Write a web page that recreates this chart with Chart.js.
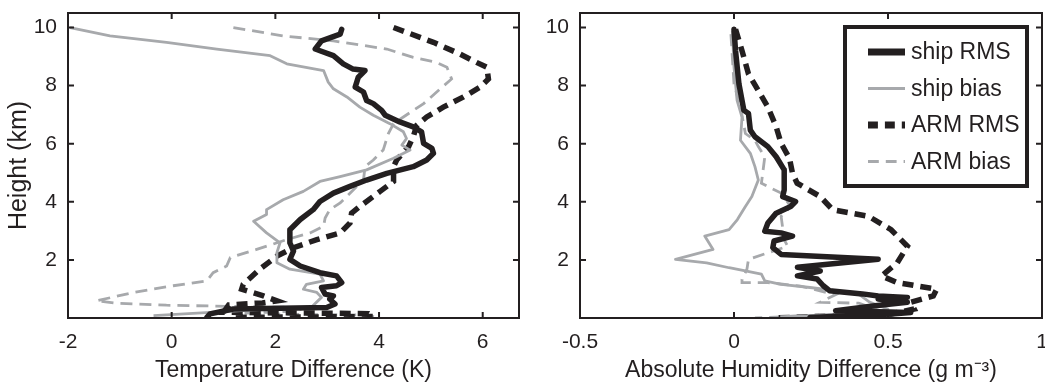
<!DOCTYPE html>
<html>
<head>
<meta charset="utf-8">
<script src="https://cdn.jsdelivr.net/npm/chart.js@4.4.1/dist/chart.umd.min.js"></script>
<style>
  html, body { margin: 0; padding: 0; background: #fff; overflow: hidden; }
  .panel { position: absolute; top: 0; height: 387px; }
  #leftBox { left: 0; width: 525px; }
  #rightBox { left: 525px; width: 525px; }
</style>
</head>
<body>
<div class="panel" id="leftBox"><canvas id="tempChart"></canvas></div>
<div class="panel" id="rightBox"><canvas id="humChart"></canvas></div>
<script>
// ---- data: x = difference, h = height (km) ----
const seriesNames = ['ship RMS', 'ship bias', 'ARM RMS', 'ARM bias'];

// Temperature difference (K)
const tShipRmsX = [3.28, 3.25, 2.89, 2.77, 2.86, 3.12, 3.31, 3.50, 3.73, 3.60, 3.54, 3.70, 3.76, 3.89, 4.05, 4.12, 4.40, 4.66, 4.82, 4.86, 5.02, 5.05, 4.92, 4.66, 4.15, 3.76, 3.44, 3.12, 2.86, 2.73, 2.48, 2.28, 2.28, 2.35, 2.28, 2.48, 2.86, 3.18, 3.28, 3.18, 2.89, 2.96, 3.12, 3.05, 3.15, 2.99, 1.19, 0.74, 0.68];
const tShipRmsH = [9.94, 9.77, 9.54, 9.26, 9.20, 9.03, 8.75, 8.57, 8.52, 8.29, 7.95, 7.78, 7.49, 7.38, 7.15, 6.98, 6.75, 6.58, 6.41, 6.01, 5.84, 5.67, 5.44, 5.21, 4.98, 4.75, 4.53, 4.30, 4.01, 3.73, 3.39, 3.04, 2.59, 2.30, 2.02, 1.79, 1.56, 1.45, 1.22, 1.11, 1.05, 0.82, 0.76, 0.65, 0.48, 0.36, 0.31, 0.14, 0.02];

const tShipBiasX = [-1.96, -1.19, -0.10, 0.87, 1.90, 2.22, 2.93, 3.02, 3.12, 3.38, 3.63, 3.89, 4.21, 4.47, 4.53, 4.44, 4.60, 4.28, 3.76, 3.25, 2.86, 2.54, 2.15, 1.83, 1.83, 1.58, 1.83, 2.09, 2.03, 2.03, 2.28, 2.86, 2.93, 2.60, 2.54, 2.80, 2.89, 2.70, 1.00, -0.35];
const tShipBiasH = [10.0, 9.71, 9.49, 9.26, 9.03, 8.75, 8.52, 8.12, 7.89, 7.61, 7.26, 6.98, 6.69, 6.41, 6.18, 5.95, 5.78, 5.50, 5.10, 4.87, 4.70, 4.36, 4.07, 3.73, 3.56, 3.33, 2.93, 2.59, 2.25, 1.90, 1.68, 1.51, 1.28, 1.16, 0.99, 0.88, 0.71, 0.38, 0.22, 0.08];

const tArmRmsX = [4.28, 5.05, 5.56, 5.88, 6.08, 6.11, 5.95, 5.63, 5.24, 4.92, 4.73, 4.66, 4.57, 4.34, 4.28, 4.28, 4.02, 3.63, 3.47, 3.44, 3.25, 2.80, 2.35, 2.03, 1.70, 1.38, 1.35, 1.77, 2.03, 1.75, 1.10, 1.00, 3.80, 3.90, 1.20];
const tArmRmsH = [10.0, 9.49, 9.09, 8.80, 8.63, 8.23, 7.95, 7.61, 7.26, 6.92, 6.64, 6.24, 5.90, 5.44, 5.21, 4.70, 4.36, 3.84, 3.61, 3.27, 2.93, 2.70, 2.42, 2.13, 1.68, 1.16, 0.99, 0.76, 0.59, 0.52, 0.45, 0.20, 0.15, 0.05, 0.02];

const tArmBiasX = [1.19, 2.15, 3.12, 4.15, 4.66, 5.11, 5.31, 5.40, 5.18, 4.86, 4.47, 4.28, 4.18, 4.08, 3.89, 3.73, 3.70, 3.57, 3.25, 3.05, 2.96, 2.93, 2.67, 2.22, 1.64, 1.13, 1.06, 0.80, 0.68, 0.03, -0.74, -1.45, -1.06, -0.10, 1.19, 2.48, 2.50, 1.20, 3.80, 3.90];
const tArmBiasH = [10.0, 9.71, 9.54, 9.26, 8.97, 8.80, 8.63, 8.23, 7.89, 7.38, 6.92, 6.69, 6.35, 5.78, 5.44, 5.21, 4.75, 4.53, 3.96, 3.73, 3.44, 3.16, 2.93, 2.70, 2.36, 2.08, 1.79, 1.56, 1.28, 1.11, 0.88, 0.59, 0.51, 0.44, 0.40, 0.36, 0.25, 0.15, 0.10, 0.04];

// Absolute humidity difference (g m^-3)
const qShipRmsX = [0.00, 0.005, 0.016, 0.032, 0.047, 0.053, 0.068, 0.11, 0.137, 0.163, 0.163, 0.158, 0.20, 0.184, 0.137, 0.11, 0.10, 0.153, 0.19, 0.13, 0.126, 0.153, 0.468, 0.206, 0.28, 0.206, 0.27, 0.29, 0.31, 0.417, 0.468, 0.563, 0.468, 0.563, 0.458, 0.33, 0.574, 0.51, 0.247];
const qShipRmsH = [9.94, 9.20, 8.06, 7.15, 7.04, 6.47, 6.24, 5.90, 5.55, 5.10, 4.41, 4.18, 4.01, 3.84, 3.61, 3.27, 2.99, 2.93, 2.82, 2.65, 2.42, 2.19, 2.02, 1.75, 1.62, 1.45, 1.34, 1.11, 0.94, 0.83, 0.76, 0.71, 0.65, 0.54, 0.42, 0.25, 0.19, 0.14, 0.02];

const qShipBiasX = [-0.005, 0.00, 0.01, 0.026, 0.021, 0.053, 0.068, 0.079, 0.058, 0.037, 0.011, -0.016, -0.095, -0.068, -0.19, -0.089, -0.016, 0.037, 0.089, 0.10, 0.153, 0.247, 0.33, 0.405, 0.44, 0.50, 0.45, 0.15];
const qShipBiasH = [9.89, 8.63, 7.49, 6.92, 6.12, 5.67, 5.21, 4.75, 4.18, 3.84, 3.39, 3.04, 2.82, 2.36, 2.02, 1.90, 1.73, 1.62, 1.51, 1.28, 1.16, 1.05, 0.94, 0.82, 0.55, 0.30, 0.15, 0.05];

const qArmRmsX = [0.005, 0.026, 0.047, 0.079, 0.11, 0.137, 0.153, 0.18, 0.19, 0.205, 0.28, 0.32, 0.437, 0.51, 0.563, 0.53, 0.479, 0.53, 0.658, 0.647, 0.574, 0.585, 0.51, 0.13];
const qArmRmsH = [9.94, 9.20, 8.40, 7.83, 7.26, 6.58, 6.01, 5.50, 4.98, 4.64, 4.18, 3.73, 3.50, 3.04, 2.47, 1.90, 1.45, 1.22, 0.99, 0.76, 0.54, 0.31, 0.14, 0.00];

const qArmBiasX = [-0.01, 0.00, 0.021, 0.037, 0.068, 0.079, 0.10, 0.089, 0.153, 0.184, 0.153, 0.163, 0.174, 0.047, 0.042, 0.026, 0.026, 0.11, 0.216, 0.33, 0.279, 0.405, 0.458, 0.353, 0.068];
const qArmBiasH = [9.77, 8.06, 7.26, 6.35, 6.12, 5.90, 5.55, 4.64, 4.30, 3.84, 3.50, 2.70, 2.47, 2.02, 1.68, 1.33, 1.22, 1.22, 1.10, 0.80, 0.54, 0.51, 0.31, 0.14, 0.00];

const heightTicks = [2, 4, 6, 8, 10];
const tempTicks = [-2, 0, 2, 4, 6];
const humTicks = [-0.5, 0, 0.5, 1];

const ink = '#231f20';
const gray = '#a7a9ac';
const sans = '"Liberation Sans", Arial, sans-serif';

function pts(xs, hs) {
    return xs.map((x, i) => ({ x: x, y: hs[i] }));
}

function makeSets(sr, sb, ar, ab) {
    const base = { showLine: true, pointRadius: 0, tension: 0, fill: false, borderJoinStyle: 'round' };
    return [
        Object.assign({}, base, { label: seriesNames[0], data: sr, borderColor: ink, borderWidth: 5.5, borderCapStyle: 'round' }),
        Object.assign({}, base, { label: seriesNames[1], data: sb, borderColor: gray, borderWidth: 2.8 }),
        Object.assign({}, base, { label: seriesNames[2], data: ar, borderColor: ink, borderWidth: 5.5, borderDash: [11, 7], borderJoinStyle: 'miter' }),
        Object.assign({}, base, { label: seriesNames[3], data: ab, borderColor: gray, borderWidth: 2.8, borderDash: [12, 7], borderJoinStyle: 'miter' }),
    ];
}

// box around the plot with inward ticks on all four sides
const frame = {
    id: 'frame',
    afterDatasetsDraw: (chart) => {
        const ctx = chart.ctx;
        const a = chart.chartArea;
        const x = chart.scales.x, y = chart.scales.y;
        ctx.save();
        ctx.strokeStyle = ink;
        ctx.lineWidth = 2;
        ctx.beginPath();
        x.ticks.forEach(t => {
            const px = x.getPixelForValue(t.value);
            ctx.moveTo(px, a.bottom); ctx.lineTo(px, a.bottom - 6);
            ctx.moveTo(px, a.top); ctx.lineTo(px, a.top + 6);
        });
        y.ticks.forEach(t => {
            const py = y.getPixelForValue(t.value);
            ctx.moveTo(a.left, py); ctx.lineTo(a.left + 6, py);
            ctx.moveTo(a.right, py); ctx.lineTo(a.right - 6, py);
        });
        ctx.stroke();
        ctx.strokeRect(a.left, a.top, a.right - a.left, a.bottom - a.top);
        ctx.restore();
    }
};

// boxed legend in the upper right of the humidity panel
const boxLegend = {
    id: 'boxLegend',
    afterDraw: (chart) => {
        const ctx = chart.ctx;
        const a = chart.chartArea;
        const bx = a.right - 197, by = a.top + 14, bw = 182, bh = 159;
        ctx.save();
        ctx.fillStyle = '#fff';
        ctx.fillRect(bx, by, bw, bh);
        ctx.strokeStyle = ink;
        ctx.lineWidth = 4;
        ctx.strokeRect(bx, by, bw, bh);
        ctx.font = '23px ' + sans;
        ctx.textBaseline = 'middle';
        ctx.fillStyle = ink;
        chart.data.datasets.forEach((ds, i) => {
            const ly = by + 25 + i * 36.5;
            ctx.beginPath();
            ctx.strokeStyle = ds.borderColor;
            ctx.lineWidth = ds.borderColor === ink ? 7 : ds.borderWidth;
            ctx.setLineDash(ds.borderDash ? [ds.borderDash[0] * 0.9, ds.borderDash[1]] : []);
            ctx.moveTo(bx + 23, ly);
            ctx.lineTo(bx + 60, ly);
            ctx.stroke();
            ctx.setLineDash([]);
            ctx.fillText(ds.label, bx + 66, ly + 1);
        });
        ctx.restore();
    }
};

function makeOptions(xMin, xMax, xTicks, xTitle, yWidth, yTitle) {
    return {
        responsive: true,
        maintainAspectRatio: false,
        animation: false,
        layout: { padding: { top: 13, right: 6, left: 0, bottom: 0 } },
        plugins: { legend: { display: false }, tooltip: { enabled: false } },
        scales: {
            x: {
                type: 'linear',
                min: xMin, max: xMax,
                afterBuildTicks: (s) => { s.ticks = xTicks.map(v => ({ value: v })); },
                afterFit: (s) => { s.height = 69; s.paddingLeft = 0; s.paddingRight = 0; },
                grid: { display: false, drawTicks: false },
                border: { display: false },
                ticks: { color: ink, padding: 12, font: { family: sans, size: 21 },
                         callback: (v) => String(v) },
                title: { display: true, text: xTitle, color: ink, padding: { top: 0, bottom: 3 },
                         font: { family: sans, size: 23 } }
            },
            y: {
                type: 'linear',
                min: 0, max: 10.5,
                afterBuildTicks: (s) => { s.ticks = heightTicks.map(v => ({ value: v })); },
                afterFit: (s) => { s.width = yWidth; s.paddingTop = 0; s.paddingBottom = 0; },
                grid: { display: false, drawTicks: false },
                border: { display: false },
                ticks: { color: ink, padding: 11, font: { family: sans, size: 21 } },
                title: { display: !!yTitle, text: yTitle, color: ink, padding: { top: 4, bottom: 0 },
                         font: { family: sans, size: 25 } }
            }
        }
    };
}

new Chart(document.getElementById('tempChart').getContext('2d'), {
    type: 'scatter',
    data: { datasets: makeSets(pts(tShipRmsX, tShipRmsH), pts(tShipBiasX, tShipBiasH), pts(tArmRmsX, tArmRmsH), pts(tArmBiasX, tArmBiasH)) },
    options: makeOptions(-2, 6.7, tempTicks, 'Temperature Difference (K)', 68, 'Height (km)'),
    plugins: [frame],
});

const humOpts = makeOptions(-0.5, 1, humTicks, 'Absolute Humidity Difference (g m\u207B\u00B3)', 55, '');
humOpts.layout.padding.right = 8;
new Chart(document.getElementById('humChart').getContext('2d'), {
    type: 'scatter',
    data: { datasets: makeSets(pts(qShipRmsX, qShipRmsH), pts(qShipBiasX, qShipBiasH), pts(qArmRmsX, qArmRmsH), pts(qArmBiasX, qArmBiasH)) },
    options: humOpts,
    plugins: [frame, boxLegend],
});
</script>
</body>
</html>
